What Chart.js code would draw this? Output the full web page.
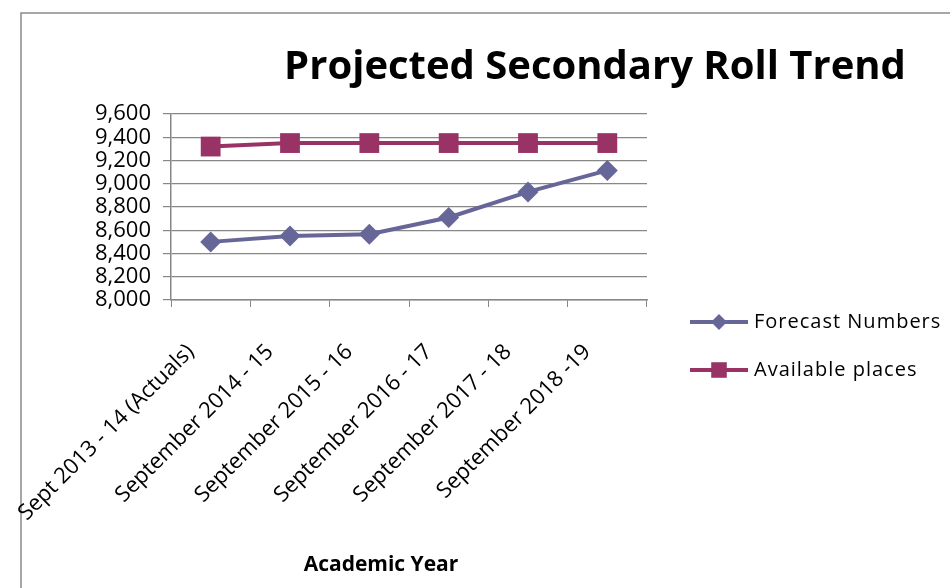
<!DOCTYPE html>
<html>
<head>
<meta charset="utf-8">
<script src="https://cdn.jsdelivr.net/npm/chart.js@4/dist/chart.umd.min.js"></script>
<style>
    html, body { margin: 0; padding: 0; background: #fff; }
    #wrap { width: 950px; height: 588px; }
</style>
</head>
<body>
<div id="wrap"><canvas id="rollChart"></canvas></div>
<script>
const academicYears = [
    'Sept 2013 - 14 (Actuals)',
    'September 2014 - 15',
    'September 2015 - 16',
    'September 2016 - 17',
    'September 2017 - 18',
    'September 2018 -19'
];
const forecastNumbers = [8500, 8550, 8565, 8710, 8930, 9115];
const availablePlaces = [9320, 9350, 9350, 9350, 9350, 9350];
const yTicks = [8000, 8200, 8400, 8600, 8800, 9000, 9200, 9400, 9600];

const FONT = "'Open Sans', 'Noto Sans', sans-serif";
const GRID = '#878787';

// grey frame round the chart, only top and left edges are visible
const framePlugin = {
    id: 'frame',
    beforeDraw(chart) {
        const ctx = chart.ctx;
        ctx.save();
        ctx.strokeStyle = '#8a8a8a';
        ctx.lineWidth = 1.5;
        ctx.beginPath();
        ctx.moveTo(21, chart.height + 5);
        ctx.lineTo(21, 13);
        ctx.lineTo(chart.width + 5, 13);
        ctx.stroke();
        ctx.restore();
    }
};

// title, axis title and the line+marker legend on the right
const textPlugin = {
    id: 'texts',
    afterDraw(chart) {
        const ctx = chart.ctx;
        const area = chart.chartArea;
        ctx.save();
        ctx.fillStyle = '#000';

        ctx.font = `bold 40px ${FONT}`;
        ctx.textAlign = 'center';
        ctx.textBaseline = 'alphabetic';
        ctx.fillText('Projected Secondary Roll Trend', 595, 79);

        ctx.font = `bold 21px ${FONT}`;
        ctx.fillText('Academic Year', area.left + 210, 571);

        ctx.textAlign = 'left';
        ctx.textBaseline = 'middle';
        ctx.font = `20px ${FONT}`;
        ctx.letterSpacing = '1px';
        chart.data.datasets.forEach((ds, i) => {
            const y = area.top + 208 + i * 48;
            const x0 = area.right + 43;
            ctx.strokeStyle = ds.borderColor;
            ctx.lineWidth = 4;
            ctx.beginPath();
            ctx.moveTo(x0, y);
            ctx.lineTo(x0 + 58, y);
            ctx.stroke();
            ctx.fillStyle = ds.pointBackgroundColor;
            ctx.strokeStyle = ds.pointBackgroundColor;
            Chart.helpers.drawPoint(ctx, {
                pointStyle: ds.pointStyle,
                radius: ds.pointStyle === 'rect' ? 11 : 8,
                borderWidth: 0
            }, x0 + 29, y);
            ctx.fillStyle = '#000';
            ctx.fillText(ds.label, x0 + 64, y);
        });
        ctx.letterSpacing = '0px';
        ctx.restore();
    }
};

const ctx = document.getElementById('rollChart').getContext('2d');

new Chart(ctx, {
    type: 'line',
    data: {
        labels: academicYears,
        datasets: [
            {
                label: 'Forecast Numbers',
                data: forecastNumbers,
                borderColor: '#666699',
                backgroundColor: '#666699',
                pointBackgroundColor: '#666699',
                pointBorderColor: '#666699',
                pointStyle: 'rectRot',
                pointRadius: 10.5,
                pointBorderWidth: 0,
                borderWidth: 4,
                tension: 0
            },
            {
                label: 'Available places',
                data: availablePlaces,
                borderColor: '#993366',
                backgroundColor: '#993366',
                pointBackgroundColor: '#993366',
                pointBorderColor: '#993366',
                pointStyle: 'rect',
                pointRadius: 14,
                pointBorderWidth: 0,
                borderWidth: 4,
                tension: 0
            }
        ]
    },
    options: {
        responsive: true,
        maintainAspectRatio: false,
        animation: false,
        layout: { padding: { top: 114, right: 303, left: 0, bottom: 0 } },
        plugins: {
            legend: { display: false },
            title: { display: false },
            tooltip: { enabled: false }
        },
        scales: {
            x: {
                offset: true,
                grid: {
                    offset: true,
                    drawOnChartArea: false,
                    color: GRID,
                    tickLength: 7
                },
                border: { color: GRID, width: 1.5 },
                ticks: {
                    color: '#000',
                    font: { family: FONT, size: 22 },
                    minRotation: 45,
                    maxRotation: 45,
                    autoSkip: false,
                    labelOffset: -20,
                    padding: 32
                },
                afterFit(scale) {
                    scale.height = 288;
                    scale.paddingLeft = 0;
                    scale.paddingRight = 0;
                }
            },
            y: {
                min: 8000,
                max: 9600,
                afterBuildTicks(scale) {
                    scale.ticks = yTicks.map(v => ({ value: v }));
                },
                grid: { color: GRID, lineWidth: 1.2, tickLength: 8 },
                border: { color: GRID, width: 1.5 },
                ticks: {
                    color: '#000',
                    font: { family: FONT, size: 22 },
                    autoSkip: false,
                    padding: 12,
                    callback: v => v.toLocaleString('en-US')
                },
                afterFit(scale) {
                    scale.width = 171;
                }
            }
        }
    },
    plugins: [framePlugin, textPlugin]
});
</script>
</body>
</html>
